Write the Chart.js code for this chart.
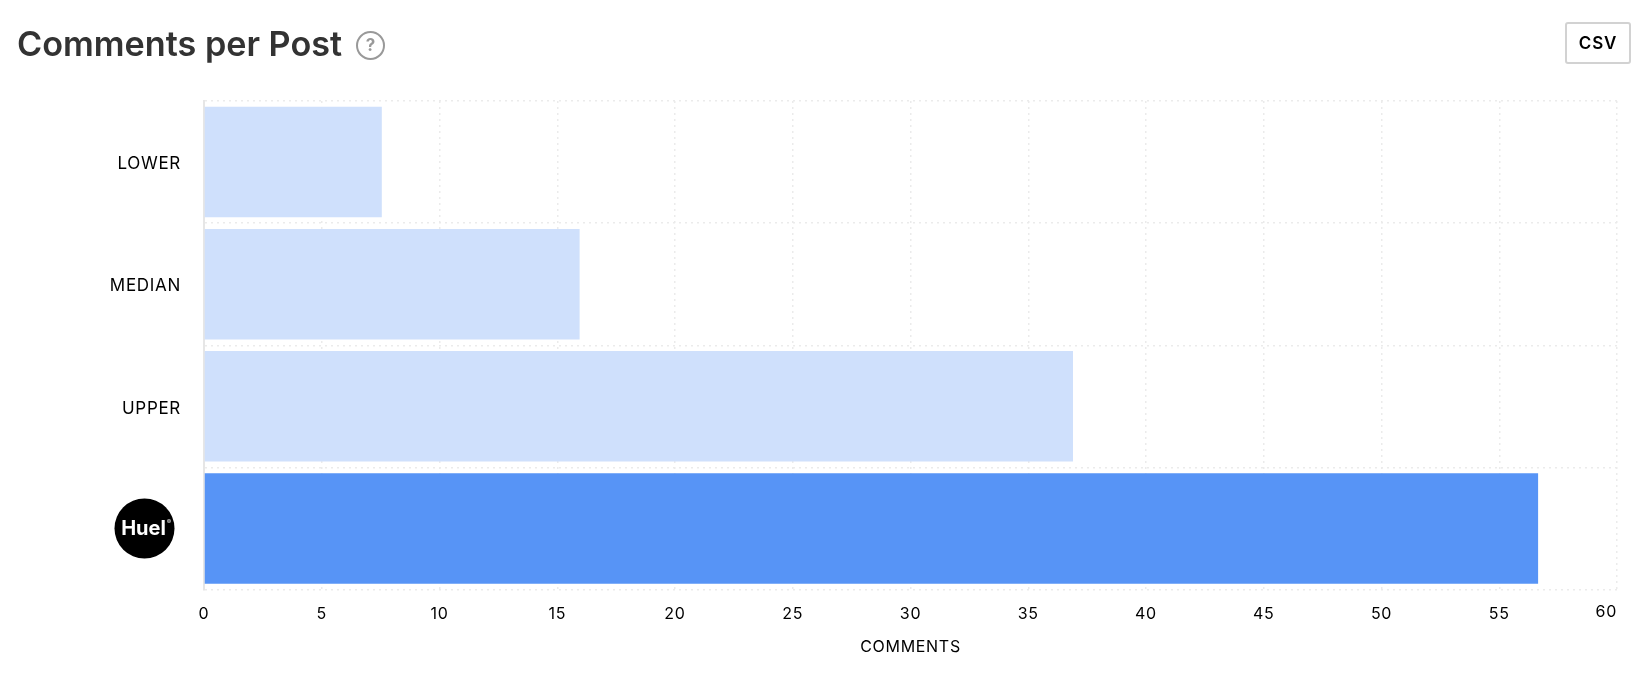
<!DOCTYPE html>
<html>
<head>
<meta charset="utf-8">
<title>Comments per Post</title>
<script src="https://cdn.jsdelivr.net/npm/chart.js@4"></script>
<style>
    html, body { margin: 0; padding: 0; background: #fff; width: 1644px; height: 676px; overflow: hidden; font-family: Inter, sans-serif; }
    #title { position: absolute; left: 17px; top: 22px; font-size: 34.2px; font-weight: 600; line-height: 44px; color: #333; white-space: nowrap; }
    #help { position: absolute; left: 356px; top: 31px; width: 25px; height: 25px; border: 2px solid #999; border-radius: 50%; color: #999; font-size: 17px; font-weight: 700; line-height: 25px; text-align: center; }
    #csv { position: absolute; left: 1565px; top: 22px; width: 62px; height: 38px; border: 2px solid #d2d2d2; border-radius: 3px; color: #000; font-size: 17px; font-weight: 600; line-height: 38px; text-align: center; letter-spacing: 0.8px; }
    #wrap { position: absolute; left: 0; top: 0; width: 1644px; height: 676px; }
</style>
</head>
<body>
<div id="wrap"><canvas id="postChart"></canvas></div>
<div id="title">Comments per Post</div>
<div id="help">?</div>
<div id="csv">CSV</div>
<script>
const categories = ["LOWER", "MEDIAN", "UPPER", "Huel"];
const comments = [7.55, 15.95, 36.9, 56.65];
const barColors = ["#cfe0fc", "#cfe0fc", "#cfe0fc", "#5794f6"];
const axisTitle = "COMMENTS";
const lastTick = 60;

// brand logo sits where the last category label would be,
// and the last x label is pulled inside the plot edge
const logoPlugin = {
    id: "logo",
    beforeDraw(chart) {
        chart.ctx.letterSpacing = "0.7px";
    },
    afterDraw(chart) {
        const ctx = chart.ctx;
        const y = chart.scales.y.getPixelForValue(3);
        ctx.save();
        ctx.letterSpacing = "0px";
        ctx.fillStyle = "#000";
        ctx.beginPath();
        ctx.arc(144.5, y, 30, 0, Math.PI * 2);
        ctx.fill();
        ctx.fillStyle = "#fff";
        ctx.font = "700 20px Inter";
        ctx.textAlign = "center";
        ctx.textBaseline = "middle";
        ctx.fillText("Huel", 143.5, y + 1);
        ctx.font = "400 6px Inter";
        ctx.fillText("®", 169, y - 6);

        ctx.letterSpacing = "0.7px";
        ctx.fillStyle = "#000";
        ctx.font = "400 16px Inter";
        ctx.textAlign = "right";
        ctx.fillText(String(lastTick), chart.scales.x.getPixelForValue(lastTick), 612);
        ctx.restore();
    }
};

document.addEventListener("DOMContentLoaded", () => {
    let ctx = document.getElementById("postChart").getContext("2d");
    new Chart(ctx, {
        type: "bar",
        data: {
            labels: categories,
            datasets: [{ data: comments, backgroundColor: barColors, barPercentage: 0.905, categoryPercentage: 1 }]
        },
        options: {
            indexAxis: "y",
            responsive: true,
            maintainAspectRatio: false,
            animation: false,
            layout: { padding: { top: 101, right: 27, bottom: 0, left: 0 } },
            plugins: { legend: { display: false }, tooltip: { enabled: false } },
            scales: {
                x: {
                    min: 0,
                    max: lastTick,
                    afterFit(scale) { scale.height = 86.5; },
                    ticks: {
                        stepSize: 5,
                        color: "#000",
                        padding: 15,
                        maxRotation: 0,
                        font: { family: "Inter", size: 16 },
                        callback(value) { return value === lastTick ? "" : value; }
                    },
                    grid: { color: "#ebebeb", lineWidth: 1.5, drawTicks: false },
                    border: { display: false, dash: [2, 4] },
                    title: { display: true, text: axisTitle, color: "#000", padding: { top: 12, bottom: 19 }, font: { family: "Inter", size: 16 } }
                },
                y: {
                    afterFit(scale) { scale.width = 204; },
                    ticks: {
                        color: "#000",
                        padding: 23,
                        // empty first line nudges the label down a touch
                        font: { family: "Inter", size: 17, lineHeight: "4.4px" },
                        callback(value) { return value === 3 ? "" : ["", categories[value]]; }
                    },
                    grid: { color: "#ebebeb", lineWidth: 1.5, drawTicks: false },
                    border: { display: true, color: "#e6e6e6", width: 2, dash: [2, 4] }
                }
            }
        },
        plugins: [logoPlugin]
    });
});
</script>
</body>
</html>
